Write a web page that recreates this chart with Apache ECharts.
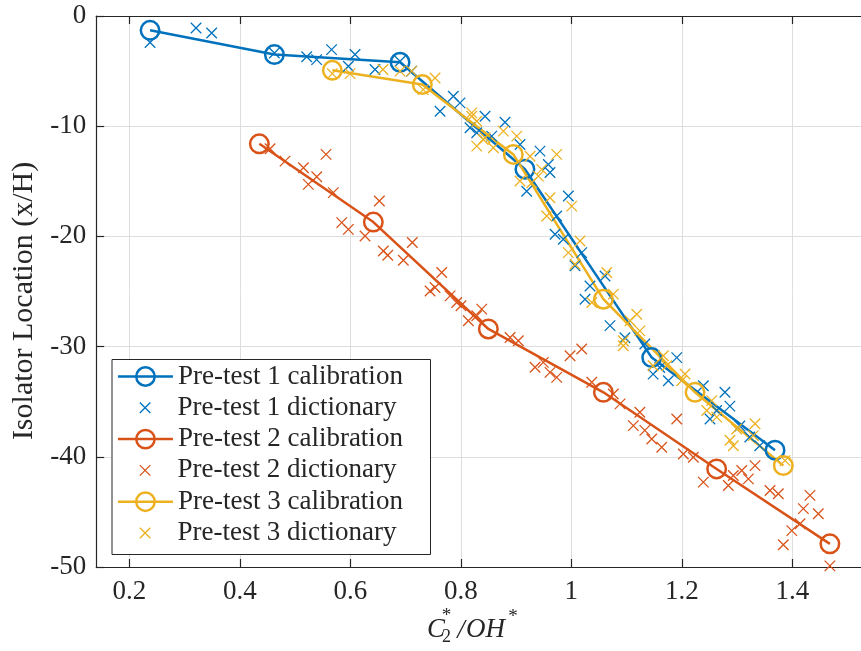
<!DOCTYPE html>
<html>
<head>
<meta charset="utf-8">
<script src="https://cdn.jsdelivr.net/npm/echarts@6/dist/echarts.min.js"></script>
<style>
  html, body { margin: 0; padding: 0; background: #fff; }
  #chart { width: 861px; height: 651px; }
</style>
</head>
<body>
<div id="chart"></div>
<script>
// Calibration curves (circles joined by lines)
const cal1X = [0.2375, 0.4625, 0.690, 0.916, 1.1455, 1.3687];
const cal1Y = [-1.3, -3.5, -4.2, -13.9, -31.0, -39.4];
const cal2X = [0.4353, 0.6416, 0.8498, 1.058, 1.263, 1.468];
const cal2Y = [-11.6, -18.7, -28.4, -34.15, -41.1, -47.9];
const cal3X = [0.5674, 0.7303, 0.895, 1.058, 1.2239, 1.3837];
const cal3Y = [-4.93, -6.22, -12.56, -25.7, -34.15, -40.8];

// Dictionary points [C2*/OH*, x/H]
const dict1 = [
  [0.2375, -2.4], [0.3207, -1.09], [0.349, -1.54], [0.4625, -3.35], [0.521, -3.7],
  [0.539, -3.96], [0.566, -3.05], [0.5964, -4.56], [0.6085, -3.5], [0.6447, -4.86],
  [0.69, -4.1], [0.711, -5.0], [0.7624, -8.64], [0.7864, -7.28], [0.7985, -7.88],
  [0.8166, -10.14], [0.8288, -10.6], [0.8438, -9.1], [0.88, -9.64], [0.8559, -10.9],
  [0.9071, -11.66], [0.9433, -12.26], [0.9584, -13.47], [0.9614, -14.2], [0.9192, -15.9],
  [0.9946, -16.34], [0.9735, -18.15], [0.9705, -19.8], [0.9855, -20.26], [1.0188, -21.47],
  [1.0067, -22.67], [1.0338, -24.5], [1.0248, -25.7], [1.061, -23.6], [1.07, -28.1],
  [1.097, -29.2], [1.133, -29.77], [1.148, -32.5], [1.1756, -33.1], [1.1908, -31.0],
  [1.16, -31.9], [1.239, -33.55], [1.278, -34.15], [1.287, -35.4], [1.251, -36.57],
  [1.263, -35.8], [1.305, -37.2], [1.341, -39.0], [1.323, -38.2]
];
const dict2 = [
  [0.4547, -12.05], [0.4818, -13.17], [0.5151, -13.77], [0.556, -12.56], [0.5392, -14.58],
  [0.524, -15.28], [0.5692, -16.03], [0.6525, -16.79], [0.5844, -18.75], [0.5964, -19.36],
  [0.6266, -19.96], [0.6597, -21.32], [0.6677, -21.71], [0.6959, -22.17], [0.7122, -20.56],
  [0.7654, -23.28], [0.7443, -24.95], [0.7533, -24.64], [0.7805, -25.4], [0.7925, -26.0],
  [0.8003, -26.3], [0.8136, -27.66], [0.8288, -27.2], [0.8378, -26.6], [0.8891, -29.17],
  [0.904, -29.47], [0.9977, -30.83], [1.0188, -30.22], [0.9343, -31.88], [0.9493, -31.43],
  [0.9614, -32.34], [0.9735, -32.79], [1.037, -33.24], [1.076, -34.3], [1.0882, -35.2],
  [1.124, -35.96], [1.1122, -37.17], [1.133, -37.6], [1.1455, -38.38], [1.1636, -39.13],
  [1.1908, -36.57], [1.2027, -39.74], [1.2208, -40.04], [1.2389, -42.3], [1.2842, -42.6],
  [1.2932, -41.7], [1.3084, -41.25], [1.3204, -42.0], [1.3325, -40.8], [1.3596, -43.06],
  [1.3746, -43.36], [1.432, -43.5], [1.42, -44.7], [1.447, -45.17], [1.399, -46.7],
  [1.414, -46.08], [1.3837, -47.98], [1.468, -49.9]
];
const dict3 = [
  [0.5674, -5.23], [0.5995, -5.23], [0.659, -4.86], [0.69, -5.0], [0.711, -5.0],
  [0.7533, -5.62], [0.732, -6.68], [0.8197, -9.09], [0.8288, -11.81], [0.8407, -11.2],
  [0.8197, -8.79], [0.8288, -9.55], [0.8438, -11.05], [0.8589, -11.96], [0.877, -10.45],
  [0.9012, -10.9], [0.9253, -12.72], [0.9735, -12.56], [0.9464, -13.92], [0.9071, -14.98],
  [0.9403, -14.53], [0.9283, -15.13], [0.9614, -16.49], [1.0007, -17.25], [0.9554, -18.15],
  [1.0157, -20.42], [0.9946, -21.47], [1.0067, -22.53], [1.0641, -23.28], [1.037, -26.0],
  [1.076, -25.24], [1.1184, -27.06], [1.1062, -27.66], [1.124, -28.57], [1.094, -29.47],
  [1.094, -29.93], [1.1665, -30.83], [1.148, -31.74], [1.1726, -31.74], [1.2058, -32.49],
  [1.1998, -33.1], [1.2541, -34.9], [1.2451, -35.8], [1.2632, -36.4], [1.2993, -37.47],
  [1.3325, -37.0], [1.3294, -38.08], [1.2872, -38.5], [1.2932, -39.0], [1.3868, -40.35]
];

// Axis ticks
const xTicks = [0.2, 0.4, 0.6, 0.8, 1.0, 1.2, 1.4];
const yTicks = [0, -10, -20, -30, -40, -50];

const names = [
  'Pre-test 1 calibration', 'Pre-test 1 dictionary',
  'Pre-test 2 calibration', 'Pre-test 2 dictionary',
  'Pre-test 3 calibration', 'Pre-test 3 dictionary'
];
const colors = ['#0072BD', '#D95319', '#EDB120'];

const FONT = '"Liberation Serif", "DejaVu Serif", serif';
const INK = '#262626';
const CROSS = 'path://M0,0L10,10M10,0L0,10';

function zip(xs, ys) { return xs.map((x, i) => [x, ys[i]]); }

function calSeries(name, xs, ys, color) {
  return {
    name, type: 'line', data: zip(xs, ys),
    symbol: 'circle', symbolSize: 18.5, showAllSymbol: true,
    lineStyle: { color, width: 2.5 },
    itemStyle: { color: 'rgba(255,255,255,0)', borderColor: color, borderWidth: 2.5 },
    emphasis: { disabled: true }, animation: false, z: 2
  };
}
function dictSeries(name, pts, color) {
  return {
    name, type: 'scatter', data: pts,
    symbol: CROSS, symbolSize: 10.5,
    itemStyle: { color, borderColor: color, borderWidth: 1.3, opacity: 1 },
    emphasis: { disabled: true }, animation: false, z: 2
  };
}

// one legend per row so that each row keeps its own icon size
const rowCenters = [376.5, 407.8, 439.1, 470.4, 501.7, 533.0];
const legends = names.map((n, i) => {
  const isCal = i % 2 === 0;
  return {
    data: [n], orient: 'vertical', left: isCal ? 116.7 : 139.2, top: rowCenters[i] - 15,
    padding: 0, itemWidth: 55, itemHeight: isCal ? 23 : 10.5, itemGap: 0,
    selectedMode: false, z: 10,
    textStyle: { fontFamily: FONT, fontSize: 27, color: INK, lineHeight: 30 },
    lineStyle: { width: 2.5 },
    itemStyle: { borderWidth: isCal ? 2.5 : 1.3 }
  };
});

const chart = echarts.init(document.getElementById('chart'), null, { renderer: 'canvas' });

const xRange = { min: 0.14, max: 1.55 };
const plot = { left: 96.2, top: 16, width: 779, height: 551 };

chart.setOption({
  backgroundColor: '#fff',
  animation: false,
  grid: Object.assign({ containLabel: false, outerBoundsMode: 'none' }, plot),
  legend: legends,
  xAxis: [{
    type: 'value', position: 'bottom', min: xRange.min, max: xRange.max,
    axisLine: { show: true, onZero: false, lineStyle: { color: INK, width: 1.2 } },
    axisTick: { show: true, inside: true, length: 8, customValues: xTicks, lineStyle: { color: INK, width: 1.2 } },
    axisLabel: { customValues: xTicks, margin: 11, fontFamily: FONT, fontSize: 27, color: INK,
      formatter: v => String(Math.round(v * 10) / 10) },
    splitLine: { show: true, lineStyle: { color: '#dedede', width: 1 } }
  }, {
    type: 'value', position: 'top', min: xRange.min, max: xRange.max,
    axisLine: { show: true, onZero: false, lineStyle: { color: INK, width: 1.2 } },
    axisTick: { show: true, inside: true, length: 8, customValues: xTicks, lineStyle: { color: INK, width: 1.2 } },
    axisLabel: { show: false },
    splitLine: { show: false }
  }],
  yAxis: [{
    type: 'value', min: -50, max: 0, interval: 10,
    axisLine: { show: true, onZero: false, lineStyle: { color: INK, width: 1.2 } },
    axisTick: { show: true, inside: true, length: 8, lineStyle: { color: INK, width: 1.2 } },
    axisLabel: { customValues: yTicks, margin: 10, fontFamily: FONT, fontSize: 27, color: INK,
      formatter: v => String(v).replace('\u2212', '-') },
    splitLine: { show: true, lineStyle: { color: '#dedede', width: 1 } }
  }],
  series: [
    calSeries(names[0], cal1X, cal1Y, colors[0]),
    dictSeries(names[1], dict1, colors[0]),
    calSeries(names[2], cal2X, cal2Y, colors[1]),
    dictSeries(names[3], dict2, colors[1]),
    calSeries(names[4], cal3X, cal3Y, colors[2]),
    dictSeries(names[5], dict3, colors[2])
  ],
  graphic: [
    // legend frame
    { type: 'rect', left: 111.5, top: 359, shape: { width: 318.5, height: 195 }, z: 5,
      style: { fill: '#fff', stroke: INK, lineWidth: 1 } },
    // y-axis title
    { type: 'text', x: 24, y: 301, rotation: Math.PI / 2, z: 5,
      style: { text: 'Isolator Location (x/H)', font: '30px ' + FONT, fill: INK, align: 'center', verticalAlign: 'middle' } },
    // x-axis title C2*/OH*
    { type: 'text', x: 427, y: 630, z: 5, style: { text: 'C', font: 'italic 27px ' + FONT, fill: INK, align: 'left', verticalAlign: 'middle' } },
    { type: 'text', x: 446.5, y: 616, z: 5, style: { text: '*', font: '19px ' + FONT, fill: INK, align: 'center', verticalAlign: 'middle' } },
    { type: 'text', x: 446.5, y: 637, z: 5, style: { text: '2', font: '18px ' + FONT, fill: INK, align: 'center', verticalAlign: 'middle' } },
    { type: 'text', x: 461, y: 631, z: 5, style: { text: '/', font: 'italic 27px ' + FONT, fill: INK, align: 'center', verticalAlign: 'middle' } },
    { type: 'text', x: 466, y: 630, z: 5, style: { text: 'OH', font: 'italic 27px ' + FONT, fill: INK, align: 'left', verticalAlign: 'middle' } },
    { type: 'text', x: 513, y: 617, z: 5, style: { text: '*', font: '19px ' + FONT, fill: INK, align: 'center', verticalAlign: 'middle' } }
  ]
});
</script>
</body>
</html>
